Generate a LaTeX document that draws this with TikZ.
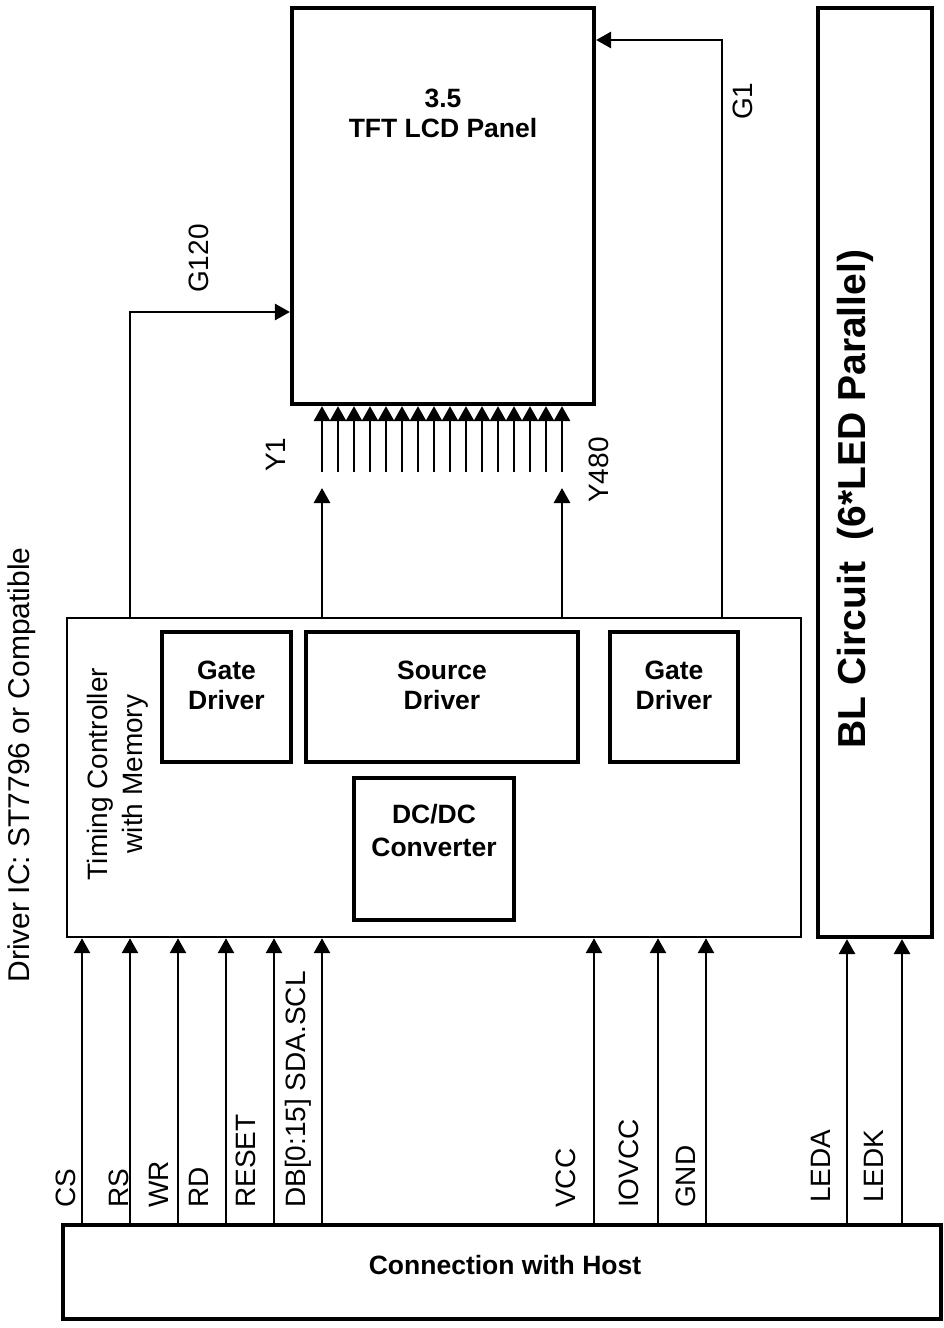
\documentclass[tikz,border=0pt]{standalone}
\usepackage{fontspec}
\setmainfont{Liberation Sans}
\usetikzlibrary{arrows.meta}

\tikzset{
  box/.style={draw, line width=4.2pt, inner sep=0pt},
  thinbox/.style={draw, line width=2.4pt, inner sep=0pt},
  sig/.style={line width=2.9pt, -{Triangle[length=15pt,width=16pt]}},
  txt/.style={font=\fontsize{28}{35}\selectfont, inner sep=0pt},
  btxt/.style={font=\fontsize{26.5}{30}\selectfont\bfseries, align=center, inner sep=0pt},
  lbl/.style={txt, rotate=90, anchor=base west},
}

\begin{document}
\begin{tikzpicture}[x=1pt, y=-1pt]
        \useasboundingbox (0,0) rectangle (944,1328);

        % Ekranas
        \node[box, minimum width=302, minimum height=396] (panel) at (443,206) {};
        \node[btxt] (panelt) at (443,113) {3.5\\TFT LCD Panel};

        % Apsvietimas
        \node[box, minimum width=114, minimum height=929] (bl) at (875,472.5) {};
        \node[btxt, font=\fontsize{39}{44}\selectfont\bfseries, rotate=90] (blt) at (855,499) {BL Circuit\ \ (6*LED Parallel)};

        % Valdiklis
        \node[thinbox, minimum width=734, minimum height=319] (tcon) at (434,777.5) {};
        \node[txt, rotate=90, align=center] (tcont) at (118,774) {Timing Controller\\with Memory};

        % Vidiniai blokai
        \node[box, minimum width=129, minimum height=130] (gl) at (226.5,697) {};
        \node[box, minimum width=272, minimum height=130] (src) at (442,697) {};
        \node[box, minimum width=128, minimum height=130] (gr) at (674,697) {};
        \node[box, minimum width=160, minimum height=142] (dcdc) at (434,849) {};
        \node[btxt] (glt) at (226.5,685) {Gate\\Driver};
        \node[btxt] (srct) at (442,685) {Source\\Driver};
        \node[btxt] (grt) at (674,685) {Gate\\Driver};
        \node[btxt, font=\fontsize{26.5}{33}\selectfont\bfseries] (dcdct) at (434,831) {DC/DC\\Converter};

        % Jungtis
        \node[box, minimum width=878, minimum height=94] (host) at (502,1272) {};
        \node[btxt] (hostt) at (505,1265) {Connection with Host};

        % Lusto pavadinimas
        \node[txt, font=\fontsize{30}{36}\selectfont, rotate=90, anchor=base] (ic) at (29,765) {Driver IC: ST7796 or Compatible};

        % Vartu linijos
        \coordinate (g120) at (130,312);
        \coordinate (g1) at (722,40);
        \draw[sig] (tcon.north -| g120) |- (panel.west |- g120);
        \draw[sig] (tcon.north -| g1) |- (panel.east |- g1);
        \node[lbl] (g120t) at (208,293) {G120};
        \node[lbl] (g1t) at (752,120) {G1};

        % Saltinio linijos
        \coordinate (y1) at (322,488);
        \coordinate (y480) at (562,488);
        \draw[sig] (tcon.north -| y1) -- (y1);
        \draw[sig] (tcon.north -| y480) -- (y480);
        \coordinate (cb) at (322,472);
        \foreach \i in {0,...,15} {
            \coordinate (c\i) at ([xshift={16*\i}]cb);
            \draw[sig] (c\i) -- (c\i |- panel.south);
        }
        \node[lbl] (y1t) at (285,472) {Y1};
        \node[lbl] (y480t) at (608,503) {Y480};

        % Signalai is jungties
        \foreach \x/\lx/\t in {82/75/CS, 130/128/RS, 178/168/WR, 226/208/RD,
                274/255/RESET, 322/305/{DB[0:15] SDA.SCL},
                594/575/VCC, 658/638/IOVCC, 706/695/GND} {
            \coordinate (s\x) at (\x,0);
            \draw[sig] (host.north -| s\x) -- (tcon.south -| s\x);
            \node[lbl] (l\x) at (\lx,1208) {\t};
        }
        \foreach \x/\lx/\t in {847/830/LEDA, 902/883/LEDK} {
            \coordinate (s\x) at (\x,0);
            \draw[sig] (host.north -| s\x) -- (bl.south -| s\x);
            \node[lbl] (l\x) at (\lx,1203) {\t};
        }
    \end{tikzpicture}
\end{document}
